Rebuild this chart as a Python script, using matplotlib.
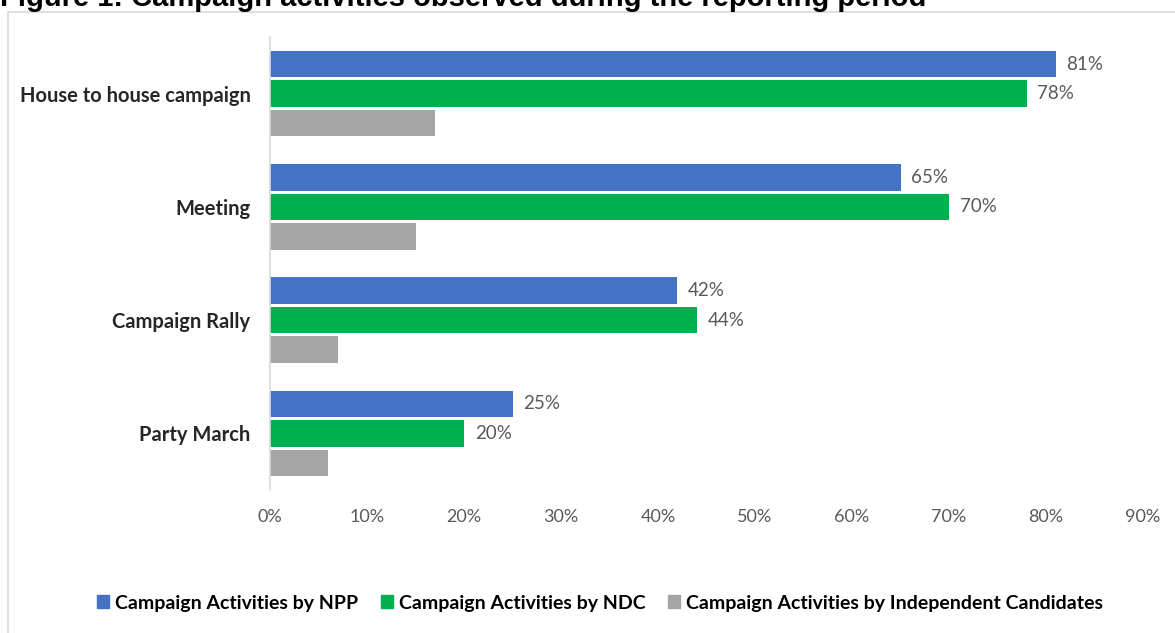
import matplotlib
matplotlib.use("Agg")
import matplotlib.pyplot as plt
from matplotlib.patches import Patch, Rectangle
import numpy as np

categories = ["House to house campaign", "Meeting", "Campaign Rally", "Party March"]
npp = [81, 65, 42, 25]
ndc = [78, 70, 44, 20]
independent = [17, 15, 7, 6]
series_names = ["Campaign Activities by NPP", "Campaign Activities by NDC",
                "Campaign Activities by Independent Candidates"]
xticks = [0, 10, 20, 30, 40, 50, 60, 70, 80, 90]
title = "Figure 1: Campaign activities observed during the reporting period"

colors = ["#4472C4", "#00B050", "#A5A5A5"]
W, H = 1175, 633
fig = plt.figure(figsize=(W / 100, H / 100), dpi=100)

# chart frame
fig.patches.append(Rectangle((8 / W, -0.01), 1.2, (H - 12) / H + 0.01, transform=fig.transFigure,
                             fill=False, edgecolor="#D9D9D9", linewidth=1.2))

ax = fig.add_axes([270 / W, (H - 490) / H, (1143 - 270) / W, (490 - 37) / H])

y = np.arange(len(categories))
step = 0.26
h = 0.235
series = [npp, ndc, independent]
for i, (vals, c) in enumerate(zip(series, colors)):
    pos = y + (i - 1) * step
    ax.barh(pos, vals, height=h, color=c, label=series_names[i])
    if i < 2:
        for p, v in zip(pos, vals):
            ax.text(v + 1.1, p, f"{v}%", va="center", ha="left", fontsize=13.5,
                    color="#595959", family="Lato")

ax.set_xlim(0, 90)
ax.set_ylim(3.5, -0.5)
ax.set_yticks(y)
ax.set_yticklabels(categories, fontsize=14.5, fontweight="bold", family="Lato", color="#262626")
ax.set_xticks(xticks)
ax.set_xticklabels([f"{t}%" for t in xticks], fontsize=13, color="#595959", family="Lato")
ax.tick_params(axis="y", length=0, pad=14)
ax.tick_params(axis="x", length=0, pad=14)
for s in ["top", "right", "bottom"]:
    ax.spines[s].set_visible(False)
ax.spines["left"].set_color("#D9D9D9")
ax.spines["left"].set_linewidth(1.2)

handles = [Patch(color=c) for c in colors]
fig.legend(handles, series_names, loc="center", bbox_to_anchor=(600 / W, (H - 603) / H),
           ncol=3, frameon=False, handlelength=0.6, handleheight=0.6, handletextpad=0.3,
           columnspacing=1.2, prop={"family": "Lato", "weight": "bold", "size": 14})

fig.text(0, (H - 6) / H, title, fontsize=21, fontweight="bold", family="Liberation Sans",
         ha="left", va="baseline", color="black")

fig.savefig("out.png", dpi=100)
